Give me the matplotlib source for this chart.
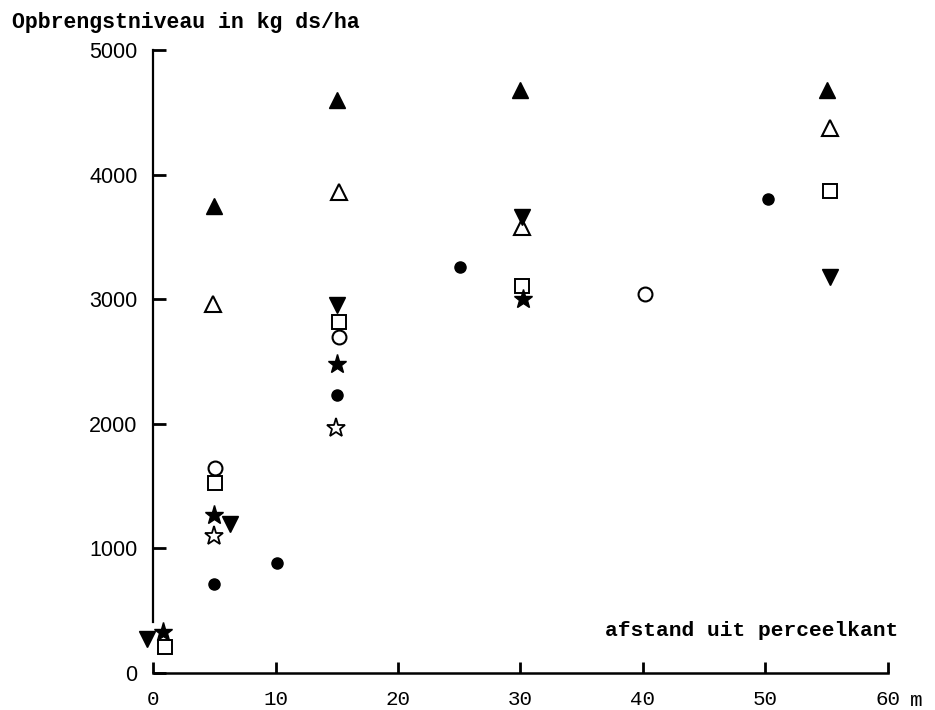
import matplotlib.pyplot as plt

# afstand uit perceelkant (m) en opbrengst (kg ds/ha) per symbool
tri_up_x = [5, 15, 30, 55]
tri_up_y = [3750, 4600, 4680, 4680]

tri_up_open_x = [4.9, 15.2, 30.1, 55.3]
tri_up_open_y = [2965, 3860, 3580, 4370]

tri_down_x = [-0.5, 6.3, 15, 30.1, 55.3]
tri_down_y = [270, 1195, 2950, 3660, 3175]

square_x = [1.0, 5.1, 15.2, 30.1, 55.3]
square_y = [206, 1521, 2815, 3105, 3865]

circle_open_x = [5.1, 15.2, 40.2]
circle_open_y = [1642, 2700, 3040]

star_x = [0.8, 5.0, 15.0, 30.2]
star_y = [330, 1264, 2476, 3000]

dot_x = [5.0, 10.1, 15.0, 25.1, 50.2]
dot_y = [718, 879, 2234, 3258, 3806]

star_open_x = [5.0, 14.9]
star_open_y = [1096, 1968]

x_ticks = [0, 10, 20, 30, 40, 50, 60]
y_ticks = [0, 1000, 2000, 3000, 4000, 5000]

fig = plt.figure(figsize=(9.35, 7.1), dpi=100)
ax = fig.add_axes([0.144, 0.0521, 0.845, 0.9127])

ax.plot(tri_up_x, tri_up_y, '^', color='black', ms=12, ls='none')
ax.plot(tri_up_open_x, tri_up_open_y, '^', mfc='white', mec='black', mew=1.5, ms=11, ls='none')
ax.plot(tri_down_x, tri_down_y, 'v', color='black', ms=12, ls='none')
ax.plot(square_x, square_y, 's', mfc='white', mec='black', mew=1.4, ms=9.5, ls='none')
ax.plot(circle_open_x, circle_open_y, 'o', mfc='white', mec='black', mew=1.5, ms=10, ls='none')
ax.plot(star_x, star_y, '*', color='black', ms=14, ls='none')
ax.plot(dot_x, dot_y, 'o', color='black', ms=8, ls='none')
ax.plot(star_open_x, star_open_y, '*', mfc='white', mec='black', mew=1.3, ms=14, ls='none')

ax.set_xlim(-1.5, 63)
ax.set_ylim(0, 5200)

for s in ['top', 'right']:
    ax.spines[s].set_visible(False)
ax.spines['left'].set_position(('data', 0))
ax.spines['bottom'].set_position(('data', 0))
ax.spines['left'].set_bounds(406, 5000)
ax.spines['bottom'].set_bounds(0, 60)
ax.spines['left'].set_linewidth(1.6)
ax.spines['bottom'].set_linewidth(1.8)

ax.set_xticks(x_ticks)
ax.set_yticks(y_ticks)
ax.set_xticklabels([str(t) for t in x_ticks], family='Liberation Mono', fontsize=15)
ax.set_yticklabels([str(t) for t in y_ticks], family='Liberation Sans', fontsize=15.5)
ax.tick_params(axis='x', direction='in', length=8, width=2, pad=12)
ax.tick_params(axis='y', direction='in', length=9, width=2, pad=11)

ax.annotate('m', xy=(60, 0), xytext=(16, -13), textcoords='offset points',
            ha='left', va='top', family='Liberation Mono', fontsize=15)

fig.text(0.013, 0.969, 'Opbrengstniveau in kg ds/ha', family='Liberation Mono',
         fontsize=15.5, fontweight='bold', ha='left', va='center')
ax.text(60.8, 340, 'afstand uit perceelkant', family='Liberation Mono',
        fontsize=15.3, fontweight='bold', ha='right', va='center')

plt.savefig('out.png', dpi=100, facecolor='white')
